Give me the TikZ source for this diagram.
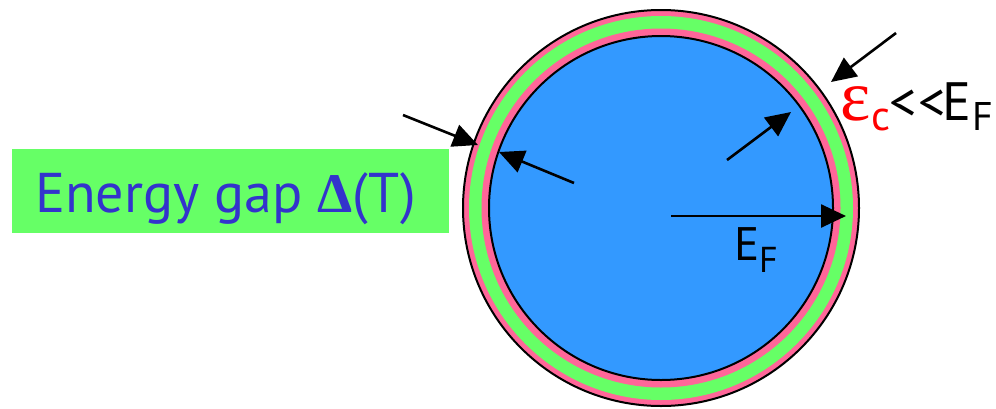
\documentclass[tikz,border=0pt]{standalone}
\usepackage{fontspec}
\setmainfont{PT Sans}
\newfontfamily\symfont{Liberation Serif}
\usetikzlibrary{arrows.meta}
\definecolor{fillblue}{HTML}{3399FF}
\definecolor{bandpink}{HTML}{FF6699}
\definecolor{bandgreen}{HTML}{66FF66}
\definecolor{txtblue}{HTML}{3333CC}
\definecolor{txtred}{HTML}{FF0000}
\tikzset{
  ptr/.style={line width=2.6pt,-{Triangle[length=25pt,width=23pt]}},
  lbl/.style={inner sep=0pt,anchor=base west},
}
\begin{document}
\begin{tikzpicture}[x=1pt,y=-1pt]
\useasboundingbox (0,0) rectangle (996,408);
% sphere
\node[circle,draw=black,line width=2pt,fill=bandpink,minimum size=396pt,inner sep=0pt] (outer) at (661,208) {};
\node[circle,fill=bandgreen,minimum size=384pt,inner sep=0pt] (green) at (661,208) {};
\node[circle,fill=bandpink,minimum size=359pt,inner sep=0pt] (pinkin) at (661,208) {};
\node[circle,draw=black,line width=2pt,fill=fillblue,minimum size=344pt,inner sep=0pt] (core) at (661,208) {};
% label box
\node[fill=bandgreen,minimum width=437pt,minimum height=84pt,inner sep=0pt,anchor=north west] (gapbox) at (12,149) {};
\node[lbl,text=txtblue] (gaptxt) at (35,212) {\fontsize{56}{60}\selectfont Energy gap {\symfont\bfseries Δ}(T)};
% epsilon label
\node[lbl,text=txtred] (eps) at (840,120) {\symfont\fontsize{72}{60}\selectfont ε};
\node[lbl,text=txtred] (epssub) at (871,130) {\fontsize{42}{40}\selectfont c};
\node[lbl] (ll) at (889,120) {\fontsize{54}{60}\selectfont{<}\kern2pt{<}};
\node[lbl] (efr) at (942,120) {\fontsize{54}{60}\selectfont E};
\node[lbl] (efrsub) at (972,130) {\fontsize{40}{40}\selectfont F};
% E_F label
\node[lbl] (ef) at (734,260) {\fontsize{47}{50}\selectfont E};
\node[lbl] (efsub) at (759,272) {\fontsize{36}{36}\selectfont F};
% arrow coordinates
\coordinate (a1s) at (403,115);
\coordinate (a1e) at (478,145);
\coordinate (a2s) at (574,183);
\coordinate (a2e) at (499,152);
\coordinate (a3s) at (727,160);
\coordinate (a3e) at (791,112);
\coordinate (a4s) at (896,33);
\coordinate (a4e) at (831,82);
\coordinate (a5s) at (671,216);
\coordinate (a5e) at (846,216);
\draw[ptr] (a1s) -- (a1e);
\draw[ptr] (a2s) -- (a2e);
\draw[ptr] (a3s) -- (a3e);
\draw[ptr] (a4s) -- (a4e);
\draw[ptr] (a5s) -- (a5e);
\end{tikzpicture}
\end{document}
